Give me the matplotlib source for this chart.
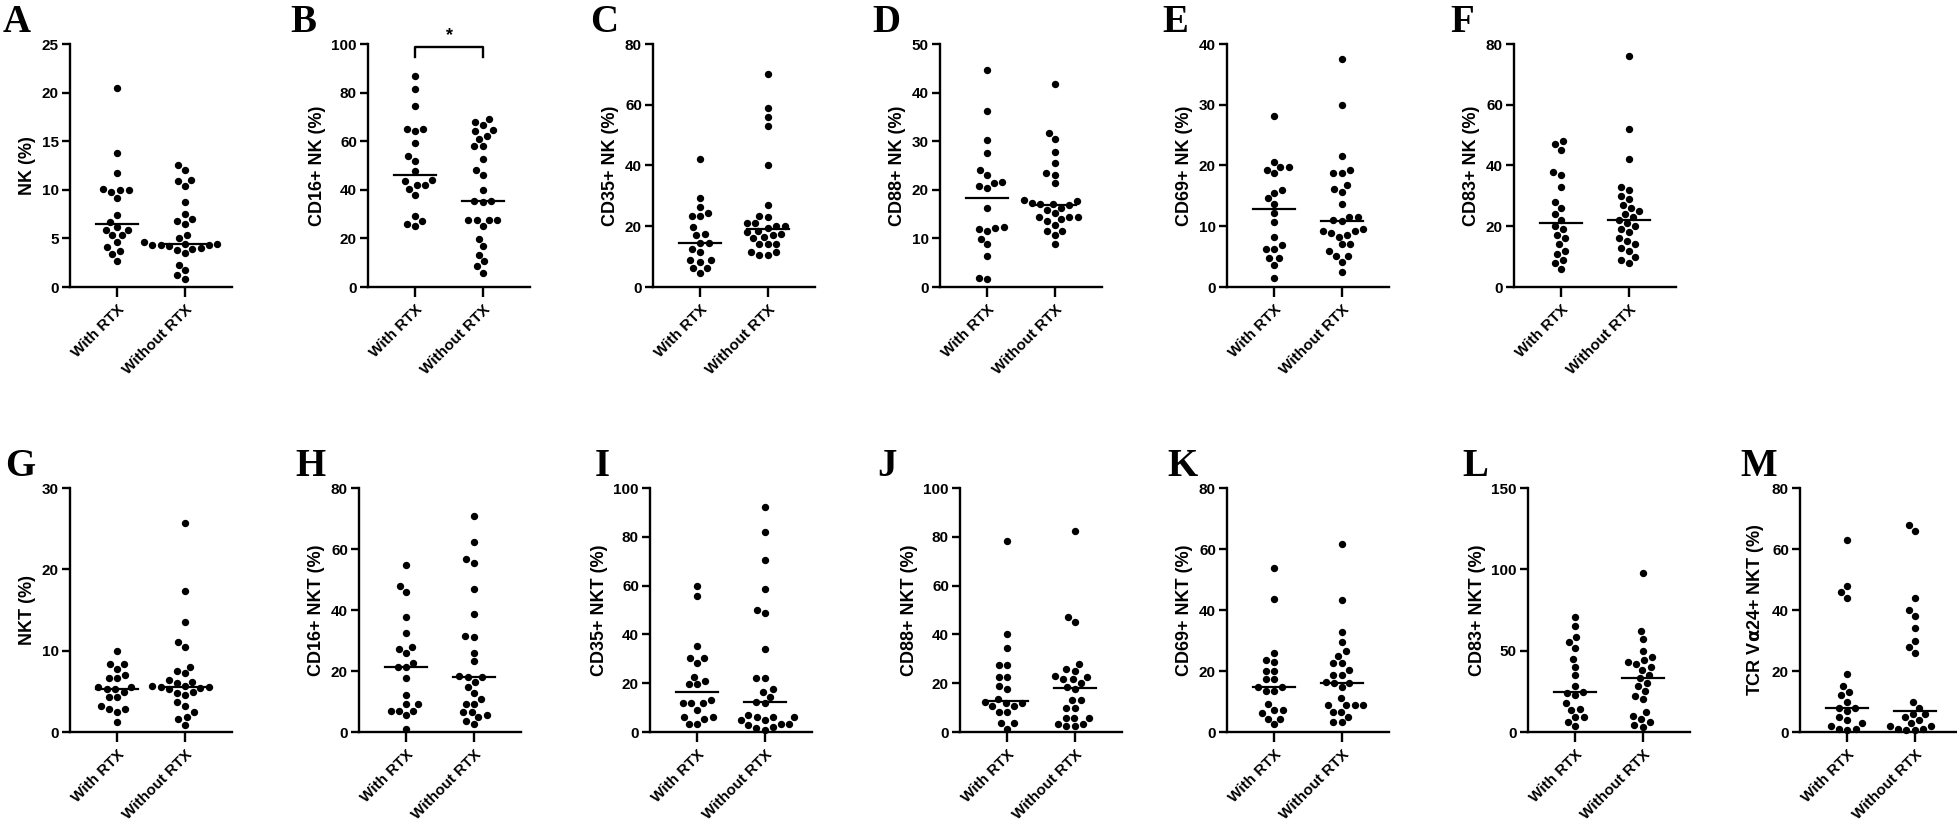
import numpy as np
import matplotlib.pyplot as plt

plt.rcParams['font.family'] = ['Liberation Sans', 'DejaVu Sans']
plt.rcParams['font.weight'] = 'bold'

groups = ['With RTX', 'Without RTX']

# ---- NK panels (top row) ----
nk_with = [20.5, 13.8, 11.7, 10.1, 10.0, 10.0, 9.8, 9.2, 7.4, 6.7, 6.2, 5.9,
           5.9, 5.3, 5.3, 4.6, 4.1, 3.7, 3.4, 2.7]
nk_without = [12.5, 12.0, 11.0, 10.9, 10.4, 8.7, 7.5, 7.0, 6.8, 6.5, 5.3, 5.0,
              4.6, 4.4, 4.4, 4.3, 4.3, 4.3, 4.2, 4.0, 3.9, 3.8, 3.5, 2.3, 1.7,
              1.2, 0.8]
cd16nk_with = [87, 81.6, 74.6, 65, 65, 64, 59.3, 53.8, 52, 47.6, 44.2, 43.5,
               42, 42, 40.5, 38, 29.4, 27, 26, 25]
cd16nk_without = [69, 68, 66.5, 64.5, 64, 62, 61, 58, 58, 52.7, 48, 46, 40,
                  35.5, 35.3, 35, 27.5, 27.5, 27.5, 27.5, 25, 19.8, 16.7, 13.3,
                  10.6, 8.5, 5.8]
cd35nk_with = [42, 29.4, 26.4, 24.2, 23.4, 23.4, 19.6, 17.6, 17, 14.6, 14.6,
               12.6, 11.5, 8.8, 8.8, 8.2, 6.3, 6.3, 4.7]
cd35nk_without = [70, 59, 56, 53, 40.3, 27.1, 23.5, 23, 21, 21, 20, 20, 19.5,
                  18.4, 18, 17.5, 17, 16.5, 16, 14.3, 14, 14, 11.5, 11.5, 10.4,
                  10.4]
cd88nk_with = [44.6, 36.2, 30.3, 27.6, 24, 23.1, 21.7, 21.5, 20.7, 20.4, 16.3,
               12.3, 12.2, 12.0, 11.6, 9.9, 8.8, 6.3, 1.8, 1.7]
cd88nk_without = [41.8, 31.7, 30.4, 27.7, 25.5, 23.5, 23.1, 21.3, 17.8, 17.6,
                  17.2, 17, 17, 16.9, 16.3, 15.9, 15.2, 14.4, 14.4, 14.4, 13.9,
                  13.5, 12.8, 11.6, 11.6, 10.8, 8.8]
cd69nk_with = [28.1, 20.6, 19.8, 19.7, 19.3, 18.7, 15.9, 15.5, 14.6, 13.7,
               12.1, 10.7, 8.2, 6.9, 6.2, 6.2, 4.7, 4.7, 3.6, 1.5]
cd69nk_without = [37.6, 30, 21.5, 19.2, 18.8, 18.8, 16.8, 16.1, 15.7, 13.6,
                  11.5, 11.5, 10.9, 11.0, 9.5, 9.3, 9.2, 8.9, 8.5, 8.3, 7.0, 7.0,
                  6.0, 5.1, 5.1, 4.1, 2.5]
cd83nk_with = [48, 47, 45, 38, 37, 33, 28, 26, 24, 22, 20, 19, 17, 16, 14, 12,
               11, 9, 8, 6]
cd83nk_without = [76, 52, 42, 33, 32, 30, 29, 27, 26, 25, 24, 23, 22, 21, 20,
                  19, 18, 16, 15, 14, 13, 12, 10, 9, 8]

# ---- NKT panels (bottom row) ----
nkt_with = [10, 8.4, 8.4, 7.8, 7.0, 6.6, 6.6, 5.5, 5.5, 5.3, 5.3, 4.9, 4.3,
            4.3, 3.2, 2.8, 2.8, 2.5, 1.2]
nkt_without = [25.7, 17.3, 13.5, 11.1, 10.5, 8.0, 7.5, 7.2, 6.4, 6.2, 6.0, 5.7,
               5.6, 5.5, 5.5, 5.4, 5.3, 4.9, 4.8, 4.5, 3.7, 3.2, 2.5, 1.9, 1.6,
               0.9]
cd16nkt_with = [54.8, 47.9, 45.9, 37.6, 32.6, 28, 27.3, 26, 22.7, 21.2, 21.2,
                17.7, 12.2, 9.2, 9.2, 7, 7, 7, 5.5, 1.1]
cd16nkt_without = [70.8, 62.3, 56.7, 55.5, 46.8, 38.6, 31.5, 31, 26, 23.2,
                   18.3, 18, 18, 16.5, 14.8, 12.7, 10.7, 9.2, 9.2, 6.6, 6.6, 5.5,
                   4.8, 3.5, 2.5]
cd35nkt_with = [59.8, 55.7, 35.4, 30.3, 30.3, 28.2, 22.7, 21, 19.5, 19.5, 13.3,
                11.7, 11.7, 11.7, 9.2, 6.2, 6.2, 5.5, 3.4, 3.4]
cd35nkt_without = [92.4, 82, 70.4, 58.5, 50.2, 48.8, 34.1, 22.3, 22.3, 17.6,
                   16.5, 14.4, 12.4, 11.8, 7.0, 6.2, 6.2, 6.2, 4.8, 4.8, 3.4, 3.4,
                   2.8, 2.1, 1.5, 1.0]
cd88nkt_with = [78.1, 40.3, 34.5, 27.6, 27.6, 22.7, 22.7, 18.9, 17.5, 13.5,
                12.2, 12.0, 12.0, 10.6, 10.6, 8.3, 8.3, 3.7, 3.7, 1.4]
cd88nkt_without = [82.3, 47, 45, 27.9, 25.7, 25, 23, 22.4, 21.6, 21.6, 20,
                   18.6, 17.5, 13.3, 13.3, 10, 10, 5.9, 5.9, 5.9, 3.4, 3.4, 2.5,
                   2.5]
cd69nkt_with = [53.7, 43.7, 25.9, 23.7, 23.1, 20.1, 20.1, 17.3, 17.3, 14.6,
                14.6, 13.5, 13.5, 9.1, 7.2, 7.2, 6.1, 4.4, 4.4, 2.5]
cd69nkt_without = [61.8, 43.2, 32.8, 29.5, 26.4, 25, 22.5, 22.5, 20.3, 18.7,
                   18.7, 16.5, 16, 16, 14.6, 11, 8.8, 8.8, 8.8, 8.8, 6.6, 6.6, 5,
                   3.3, 3.3]
cd83nkt_with = [70.5, 65.4, 58.4, 55.3, 51.5, 45.1, 40.2, 35, 28.5, 23.9, 24.3,
                22.7, 17.9, 14.4, 13.8, 9.3, 9.3, 6.2, 3.7]
cd83nkt_without = [98, 62, 57, 50, 46, 44, 43, 42, 40, 38, 35, 33, 30, 28, 25,
                   22, 20, 12, 10, 8, 6, 4, 3]
tcr_with = [63, 48, 46, 44, 19, 15, 13, 12, 10, 8, 8, 7, 5, 4, 3, 2, 1, 1, 0.5]
tcr_without = [68, 66, 44, 40, 38, 34, 30, 28, 26, 10, 8, 6, 6, 5, 4, 3, 2, 2,
               1, 1, 0.5, 0.5]

top_panels = [
    ('A', 'NK (%)', 25, 5, nk_with, nk_without),
    ('B', 'CD16+ NK (%)', 100, 20, cd16nk_with, cd16nk_without),
    ('C', 'CD35+ NK (%)', 80, 20, cd35nk_with, cd35nk_without),
    ('D', 'CD88+ NK (%)', 50, 10, cd88nk_with, cd88nk_without),
    ('E', 'CD69+ NK (%)', 40, 10, cd69nk_with, cd69nk_without),
    ('F', 'CD83+ NK (%)', 80, 20, cd83nk_with, cd83nk_without),
]
bottom_panels = [
    ('G', 'NKT (%)', 30, 10, nkt_with, nkt_without),
    ('H', 'CD16+ NKT (%)', 80, 20, cd16nkt_with, cd16nkt_without),
    ('I', 'CD35+ NKT (%)', 100, 20, cd35nkt_with, cd35nkt_without),
    ('J', 'CD88+ NKT (%)', 100, 20, cd88nkt_with, cd88nkt_without),
    ('K', 'CD69+ NKT (%)', 80, 20, cd69nkt_with, cd69nkt_without),
    ('L', 'CD83+ NKT (%)', 150, 50, cd83nkt_with, cd83nkt_without),
    ('M', r'TCR V$\mathbf{\alpha}$24+ NKT (%)', 80, 20, tcr_with, tcr_without),
]

W, H = 1958, 838
top_left = [70, 368, 653, 940, 1227, 1514]
bot_left = [70, 359, 650, 960, 1227, 1528, 1800]
top_letter = [3, 290, 590, 872, 1162, 1450]
bot_letter = [5, 295, 595, 877, 1167, 1462, 1740]
AX_W = 162
XLIM = (-0.7, 1.7)


def swarm(vals, ppu_y, ppu_x, d=8.3):
    vals = np.asarray(vals, float)
    xs = np.zeros(len(vals))
    placed = []
    cands = sorted(np.arange(-70, 70.5, 0.5), key=abs)
    for i in np.argsort(vals):
        y = vals[i] * ppu_y
        for c in cands:
            if all((c - px) ** 2 + (y - py) ** 2 >= d * d for px, py in placed):
                break
        placed.append((c, y))
        xs[i] = c / ppu_x
    return xs


def draw_panel(fig, left, top_px, bot_px, letter_x, letter, ylabel, ymax, ystep,
               with_vals, without_vals, sig=False):
    ax = fig.add_axes([left / W, 1 - bot_px / H, AX_W / W, (bot_px - top_px) / H])
    ax.set_xlim(*XLIM)
    ax.set_ylim(0, ymax)
    ppu_x = AX_W / (XLIM[1] - XLIM[0])
    ppu_y = (bot_px - top_px) / ymax
    for gi, vals in enumerate([with_vals, without_vals]):
        xs = gi + swarm(vals, ppu_y, ppu_x)
        ax.plot(xs, vals, 'o', color='black', ms=5.3, mew=0, clip_on=False)
        med = np.median(vals)
        ax.plot([gi - 0.31, gi + 0.31], [med, med], color='black', lw=1.6)
    for s in ['top', 'right']:
        ax.spines[s].set_visible(False)
    for s in ['left', 'bottom']:
        ax.spines[s].set_linewidth(1.7)
    ax.set_yticks(np.arange(0, ymax + 1e-9, ystep))
    ax.set_xticks([0, 1])
    ax.set_xticklabels(groups, rotation=45, ha='right', rotation_mode='anchor',
                       fontsize=11, fontweight='bold')
    ax.tick_params(axis='y', length=6, width=1.7, labelsize=11, pad=2)
    ax.tick_params(axis='x', length=7, width=1.7, pad=4)
    for t in ax.get_yticklabels():
        t.set_fontweight('bold')
    ax.set_ylabel(ylabel, fontsize=13, fontweight='bold', labelpad=4)
    fig.text(letter_x / W, 1 - (top_px - 12) / H, letter, fontsize=28,
             fontweight='bold', family=['Liberation Serif', 'DejaVu Serif'],
             ha='left', va='baseline')
    if sig:
        yb = ymax * 0.988
        ax.plot([0, 0, 1, 1], [ymax * 0.945, yb, yb, ymax * 0.945], color='black',
                lw=1.7, clip_on=False)
        ax.text(0.5, ymax * 1.0, '*', ha='center', va='bottom', fontsize=13,
                fontweight='bold')
    return ax


fig = plt.figure(figsize=(W / 100, H / 100), dpi=100)
for i, p in enumerate(top_panels):
    draw_panel(fig, top_left[i], 44, 287, top_letter[i], *p, sig=(p[0] == 'B'))
for i, p in enumerate(bottom_panels):
    draw_panel(fig, bot_left[i], 488, 732, bot_letter[i], *p)

fig.savefig('out.png', dpi=100)
